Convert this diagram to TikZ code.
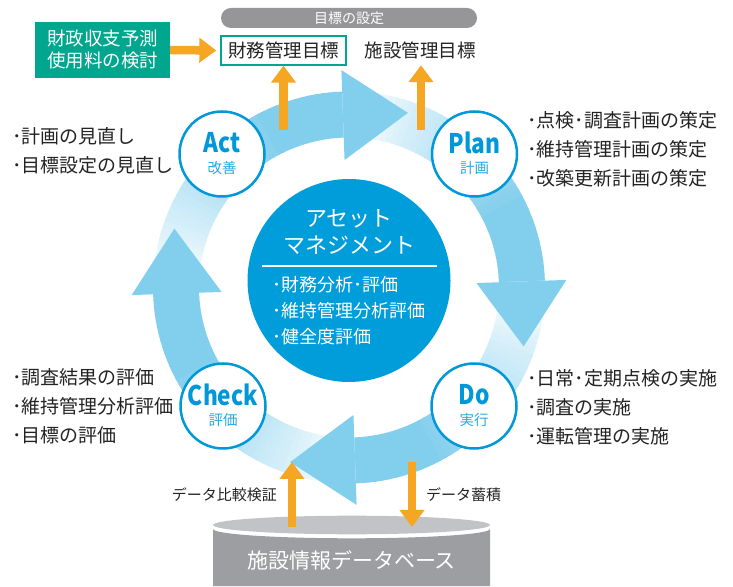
\documentclass[tikz,border=0pt]{standalone}
\usepackage{fontspec}
\setmainfont{Noto Sans CJK JP}
\usepackage{tikz}
\usetikzlibrary{arrows.meta}
\definecolor{ringblue}{RGB}{130,206,237}
\definecolor{amblue}{RGB}{0,157,219}
\definecolor{pdcablue}{RGB}{0,152,216}
\definecolor{subblue}{RGB}{40,168,225}
\definecolor{tealbox}{RGB}{0,166,141}
\definecolor{orangearr}{RGB}{245,166,35}
\definecolor{bargray}{RGB}{150,150,153}
\definecolor{dbtop}{RGB}{194,195,199}
\definecolor{dbbody}{RGB}{157,158,162}
\definecolor{textgray}{RGB}{35,35,35}
\newcommand{\pdcaword}[1]{\scalebox{0.84}[1]{#1}}

\begin{document}
\begin{tikzpicture}[x=1pt,y=1pt,
  pdca/.style={circle,draw=pdcablue,line width=2.5pt,fill=white,minimum size=85pt,inner sep=0pt},
  pdcaen/.style={text=pdcablue,font=\fontsize{27}{27}\selectfont\bfseries,inner sep=0pt},
  pdcajp/.style={text=subblue,font=\fontsize{14.5}{14.5}\selectfont,inner sep=0pt},
  items/.style={align=left,anchor=west,inner sep=0pt,text=textgray,font=\fontsize{19}{29}\selectfont},
  target/.style={minimum height=29pt,inner sep=0pt,text=textgray,font=\fontsize{18.5}{18.5}\selectfont},
  oarrow/.style={draw=orangearr,line width=8.5pt,-{Triangle[length=17pt,width=24pt]}}
]
\useasboundingbox (0,0) rectangle (733,586);

\begin{scope}[shift={(349,298.5)}]
\foreach \r in {0,90,180,270}
  \foreach \i in {0,...,44}{
    \pgfmathsetmacro\a{182-2*\i}
    \pgfmathsetmacro\b{\a-2.4}
    \pgfmathtruncatemacro\p{min(100,100*\i/32)}
    \fill[ringblue!\p!white,rotate=-\r] (\a:150) arc[start angle=\a,end angle=\b,radius=150]
      -- (\b:196) arc[start angle=\b,end angle=\a,radius=196] -- cycle;
  }
\foreach \r in {0,90,180,270}
  \fill[ringblue,rotate=-\r] (92:127.5) -- (71.35:184.3) -- (92:217.5) -- cycle;
\end{scope}

\node[circle,fill=amblue,minimum size=203pt,inner sep=0pt] (am) at (349,305.5) {};
\node[text=white,align=center,font=\fontsize{22}{27}\selectfont,inner sep=0pt] (amtitle) at (349,354.5) {アセット\\マネジメント};
\draw[white,line width=1.2pt] (262,320) -- (437,320);
\node[items,text=white,font=\fontsize{18}{26}\selectfont] (amlist) at (272,275) {･財務分析･評価\\･維持管理分析評価\\･健全度評価};

\node[pdca] (act) at (222,432) {};
\node[pdcaen] (acten) at ([yshift=11pt]act.center) {\pdcaword{Act}};
\node[pdcajp] (actjp) at ([yshift=-14pt]act.center) {改善};
\node[pdca] (plan) at (474.5,432) {};
\node[pdcaen] (planen) at ([yshift=11pt]plan.center) {\pdcaword{Plan}};
\node[pdcajp] (planjp) at ([yshift=-14pt]plan.center) {計画};
\node[pdca] (check) at (223,180) {};
\node[pdcaen] (checken) at ([yshift=11pt]check.center) {\pdcaword{Check}};
\node[pdcajp] (checkjp) at ([yshift=-14pt]check.center) {評価};
\node[pdca] (do) at (474,180) {};
\node[pdcaen] (doen) at ([yshift=11pt]do.center) {\pdcaword{Do}};
\node[pdcajp] (dojp) at ([yshift=-14pt]do.center) {実行};

\node[items] (actlist) at (12,435.5) {･計画の見直し\\･目標設定の見直し};
\node[items] (planlist) at (527,436.5) {･点検･調査計画の策定\\･維持管理計画の策定\\･改築更新計画の策定};
\node[items] (checklist) at (12,180) {･調査結果の評価\\･維持管理分析評価\\･目標の評価};
\node[items] (dolist) at (527,179) {･日常･定期点検の実施\\･調査の実施\\･運転管理の実施};

\node[fill=bargray,rounded corners=10pt,minimum width=256pt,minimum height=20pt,inner sep=0pt,text=white,font=\fontsize{14}{14}\selectfont] (goal) at (349,568) {目標の設定};
\node[fill=tealbox,minimum width=135pt,minimum height=56pt,inner sep=0pt,align=center,text=white,font=\fontsize{18.5}{22}\selectfont] (budget) at (102.5,536) {財政収支予測\\使用料の検討};
\node[target,draw=tealbox,line width=1.3pt,fill=white,minimum width=125pt] (fin) at (283.5,535.5) {財務管理目標};
\node[target] (fac) at (420,535.5) {施設管理目標};
\coordinate (finfoot) at (283.5,456);
\coordinate (facfoot) at (421,456);
\draw[oarrow,shorten >=4pt] (budget.east) -- (fin.west);
\draw[oarrow] (finfoot) -- (fin.south);
\draw[oarrow] (facfoot) -- (facfoot |- fac.south);

\fill[dbbody] (213,57) arc[start angle=180,end angle=360,x radius=138.5,y radius=9.3] -- (490,0) -- (213,0) -- cycle;
\fill[dbtop] (351.5,61) ellipse[x radius=138.5,y radius=9.3];
\node[text=white,font=\fontsize{21}{21}\selectfont,inner sep=0pt] (db) at (351.5,26) {施設情報データベース};
\coordinate (cmpfoot) at (292,59);
\coordinate (cmptip) at (292,124);
\coordinate (accfoot) at (412,124);
\coordinate (acctip) at (412,59);
\draw[oarrow] (cmpfoot) -- (cmptip);
\draw[oarrow] (accfoot) -- (acctip);
\node[anchor=east,inner sep=0pt,text=textgray,font=\fontsize{15}{15}\selectfont] (cmplabel) at (277,91) {データ比較検証};
\node[anchor=west,inner sep=0pt,text=textgray,font=\fontsize{15}{15}\selectfont] (acclabel) at (426,91) {データ蓄積};
\end{tikzpicture}
\end{document}
